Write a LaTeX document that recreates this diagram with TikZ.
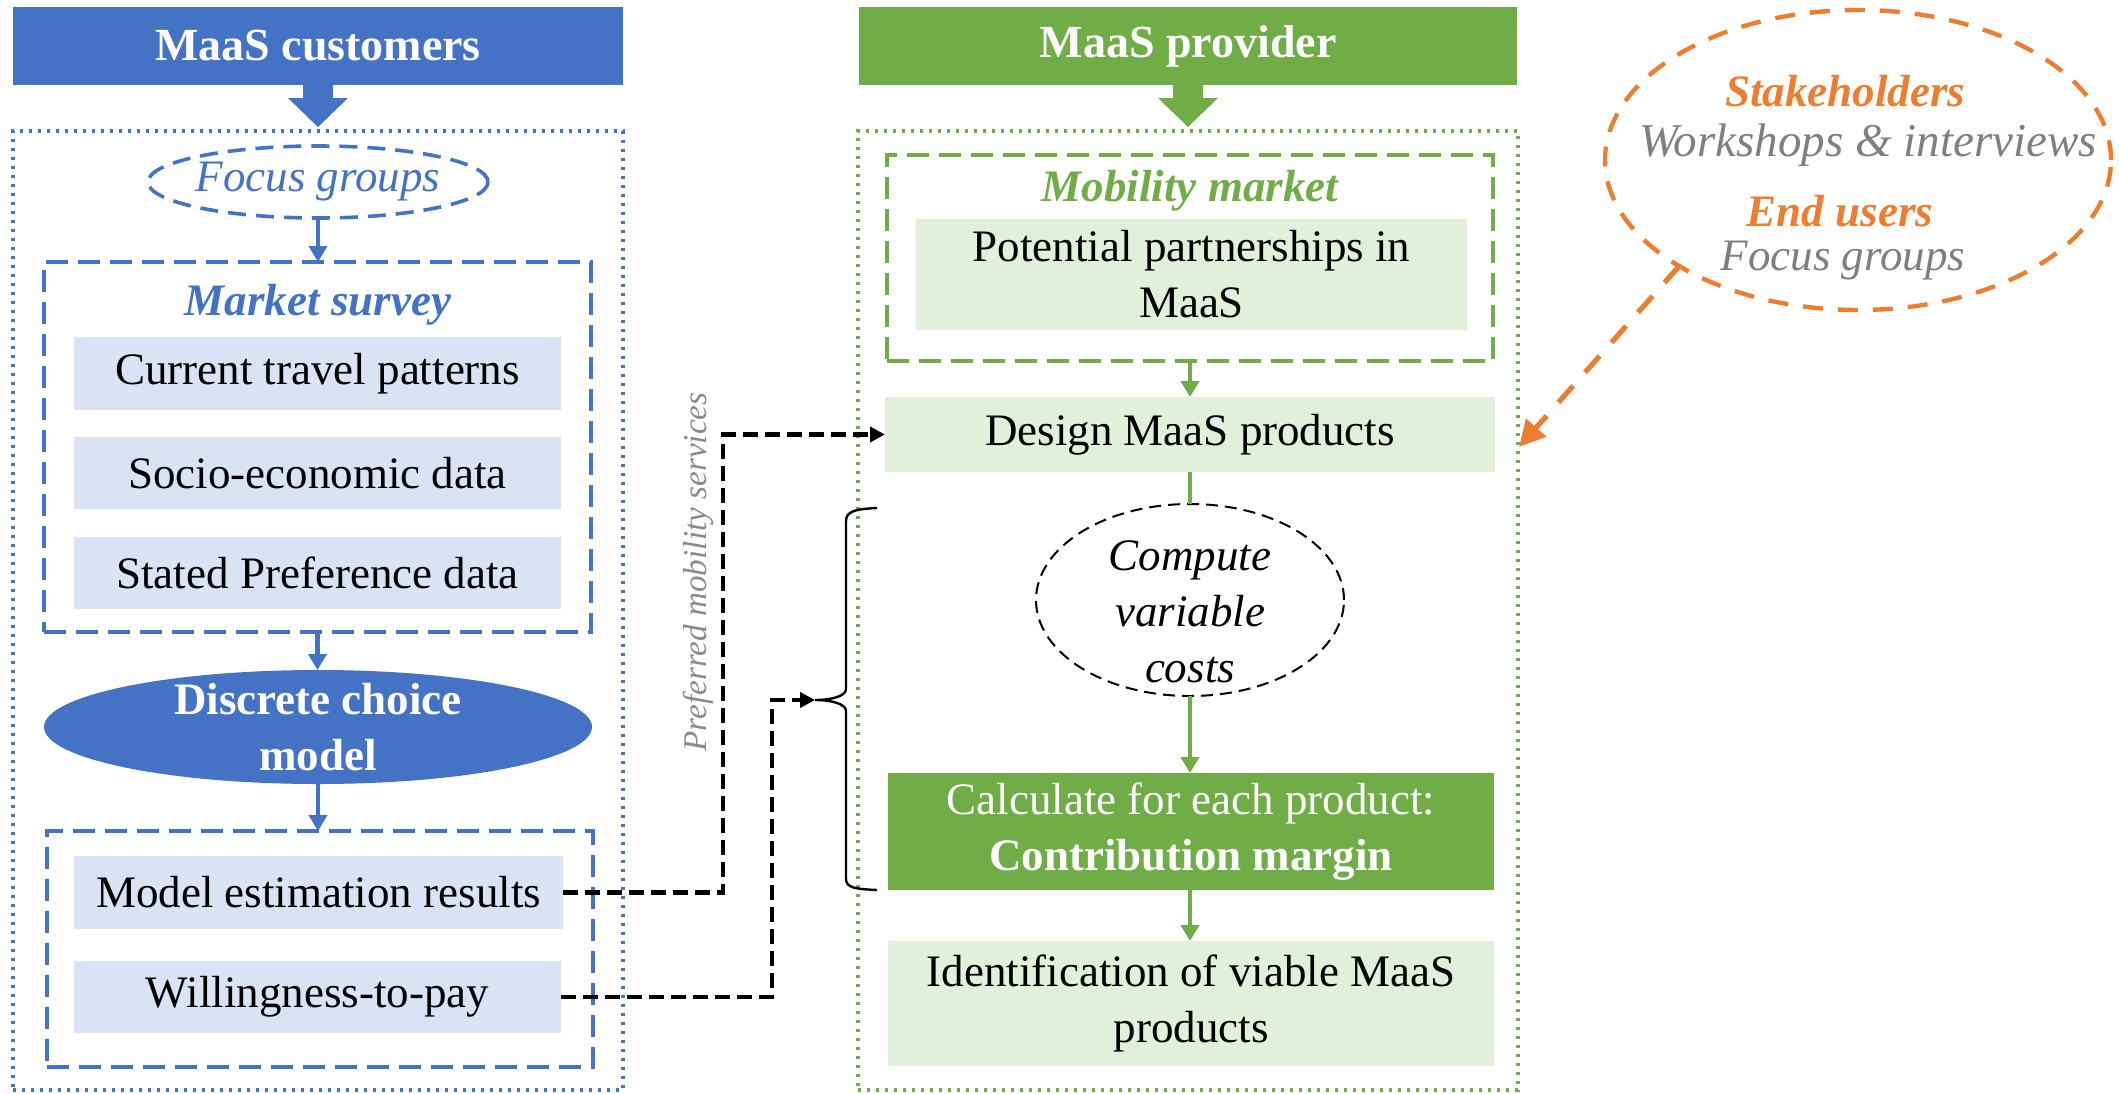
\documentclass[tikz,border=0pt]{standalone}
\usepackage{fontspec}
\setmainfont{Liberation Serif}
\usetikzlibrary{fit,shapes.geometric,arrows.meta,calc}

\definecolor{blueC}{HTML}{4472C4}
\definecolor{lblue}{HTML}{DAE3F3}
\definecolor{greenC}{HTML}{70AD47}
\definecolor{lgreen}{HTML}{E2EFDA}
\definecolor{orangeC}{HTML}{ED7D31}
\definecolor{grayT}{HTML}{7F7F7F}
\definecolor{grayP}{HTML}{8A8A8A}

\newcommand\txt{\fontsize{22.5}{28}\selectfont}
\newcommand\hdrtxt{\fontsize{23}{28}\selectfont\bfseries}

\begin{document}
\begin{tikzpicture}[x=0.5pt,y=-0.5pt,
  every node/.style={inner sep=0pt, outer sep=0pt},
  hdr/.style={fill=#1},
  hdrlbl/.style={text=white, font=\hdrtxt},
  cell/.style={fill=#1},
  lbl/.style={font=\txt, align=center},
  dotbox/.style={draw=#1, line width=1.6pt, dash pattern=on 1.6pt off 2.9pt},
  dashbox/.style={draw=#1, line width=1.8pt, dash pattern=on 11pt off 5pt},
  flow/.style={draw=#1, line width=2.4pt, -{Triangle[length=8pt,width=9pt]}},
  conn/.style={draw=black, line width=2.3pt, dash pattern=on 7.5pt off 3.5pt,
               -{Triangle[length=7.5pt,width=7.5pt]}},
]
\useasboundingbox (0,0) rectangle (2119,1093);

% ---------------- customers column ----------------
\node[fit={(13,7) (623,85)}, hdr=blueC] (hdrL) {};
\node[hdrlbl] (hdrLT) at (hdrL.center) {MaaS customers};
\fill[blueC] ($(hdrL.south)+(-15,0)$) -- ++(30,0) -- ++(0,13) -- ++(15,0)
  -- ($(hdrL.south)+(0,42)$) -- ($(hdrL.south)+(-30,13)$) -- ++(15,0) -- cycle;
\node[fit={(13,131) (623,1090)}, dotbox=blueC] (outerL) {};

\node[ellipse, draw=blueC, line width=1.8pt, dash pattern=on 9pt off 5pt,
      minimum width=170pt, minimum height=36pt] (focusL) at (318,182) {};
\node[lbl, font=\txt\itshape, text=blueC] (focusLT) at (focusL) {Focus groups};

\node[fit={(44,262) (591,632)}, dashbox=blueC] (surveyL) {};
\node[lbl, font=\txt\bfseries\itshape, text=blueC] (surveyT) at (318,305) {Market survey};
\node[fit={(74,337) (561,410)}, cell=lblue] (ctp) {};
\node[lbl] (ctpT) at (ctp.center) {Current travel patterns};
\node[fit={(74,437) (561,509)}, cell=lblue] (sed) {};
\node[lbl] (sedT) at (sed.center) {Socio-economic data};
\node[fit={(74,537) (561,609)}, cell=lblue] (spd) {};
\node[lbl] (spdT) at (spd.center) {Stated Preference data};

\node[ellipse, fill=blueC, minimum width=274pt, minimum height=57pt] (dcm) at (318,727) {};
\node[lbl, font=\txt\bfseries, text=white] (dcmT) at (dcm) {Discrete choice\\model};

\node[fit={(47,831) (593,1067)}, dashbox=blueC] (resL) {};
\node[fit={(74,856) (563,929)}, cell=lblue] (mer) {};
\node[lbl] (merT) at (mer.center) {Model estimation results};
\node[fit={(74,961) (561,1033)}, cell=lblue] (wtp) {};
\node[lbl] (wtpT) at (wtp.center) {Willingness-to-pay};

\draw[flow=blueC] (focusL.south) -- (focusL.south |- surveyL.north);
\draw[flow=blueC] (surveyL.south) -- (surveyL.south |- dcm.north);
\draw[flow=blueC] (dcm.south) -- (dcm.south |- resL.north);

% ---------------- provider column ----------------
\node[fit={(859,7) (1517,85)}, hdr=greenC] (hdrR) {};
\node[hdrlbl] (hdrRT) at (hdrR.center) {MaaS provider};
\fill[greenC] ($(hdrR.south)+(-15,0)$) -- ++(30,0) -- ++(0,13) -- ++(15,0)
  -- ($(hdrR.south)+(0,42)$) -- ($(hdrR.south)+(-30,13)$) -- ++(15,0) -- cycle;
\node[fit={(858,131) (1518,1090)}, dotbox=greenC] (outerR) {};

\node[fit={(887,155) (1493,361)}, dashbox=greenC] (mobR) {};
\node[lbl, font=\txt\bfseries\itshape, text=greenC] (mobT) at (1190,191) {Mobility market};
\node[fit={(916,219) (1467,330)}, cell=lgreen] (ppm) {};
\node[lbl] (ppmT) at (ppm.center) {Potential partnerships in\\MaaS};
\node[fit={(885,397) (1495,472)}, cell=lgreen] (dmp) {};
\node[lbl] (dmpT) at (dmp.center) {Design MaaS products};

\node[ellipse, draw=black, line width=1pt, dash pattern=on 6pt off 3.5pt,
      minimum width=154pt, minimum height=96pt] (cvc) at (1190,600) {};
\node[lbl, font=\txt\itshape] (cvcT) at (1190,612) {Compute\\variable\\costs};

\node[fit={(888,773) (1494,890)}, cell=greenC] (cfe) {};
\node[lbl, text=white] (cfeT) at (cfe.center)
  {Calculate for each product:\\\textbf{Contribution margin}};
\node[fit={(888,941) (1494,1066)}, cell=lgreen] (ivp) {};
\node[lbl] (ivpT) at (ivp.center) {Identification of viable MaaS\\products};

\draw[flow=greenC] (mobR.south) -- (mobR.south |- dmp.north);
\draw[draw=greenC, line width=2.4pt] (dmp.south) -- (dmp.south |- cvc.north);
\draw[flow=greenC] (cvc.south) -- (cvc.south |- cfe.north);
\draw[flow=greenC] (cvc.south |- cfe.south) -- (cvc.south |- ivp.north);

% ---------------- links between the columns ----------------
\draw[line width=1.2pt] (877,508) .. controls (856,509) and (846,511) .. (846,521)
  -- (846,689) .. controls (846,696) and (832,700) .. (815,700)
  .. controls (832,700) and (846,704) .. (846,711)
  -- (846,879) .. controls (846,888) and (856,889) .. (877,890);
\coordinate (btip) at (815,700);

\draw[conn] (mer.east) -- ++(160,0) |- (dmp.west);
\draw[conn] (wtp.east) -- ++(211,0) |- (btip);

\node[rotate=90, font=\fontsize{16.6}{19}\selectfont\itshape, text=grayP] (pms)
  at (698,572) {Preferred mobility services};

% ---------------- participation bubble ----------------
\node[ellipse, draw=orangeC, line width=2.2pt, dash pattern=on 10pt off 7.5pt,
      minimum width=253pt, minimum height=150pt] (stake) at (1858,160) {};
\node[anchor=base, font=\txt\bfseries\itshape, text=orangeC] (st1) at (1845,106) {Stakeholders};
\node[anchor=base, font=\fontsize{23.5}{28}\selectfont\itshape, text=grayT] (st2) at (1868,156) {Workshops \& interviews};
\node[anchor=base, font=\txt\bfseries\itshape, text=orangeC] (st3) at (1840,226) {End users};
\node[anchor=base, font=\txt\itshape, text=grayT] (st4) at (1843,270) {Focus groups};

\coordinate (otip) at (1519,447);
\draw[draw=orangeC, line width=2.6pt, dash pattern=on 11pt off 9pt,
      -{Triangle[length=13pt,width=13pt]}] (stake.south west) -- (otip);
\end{tikzpicture}
\end{document}
